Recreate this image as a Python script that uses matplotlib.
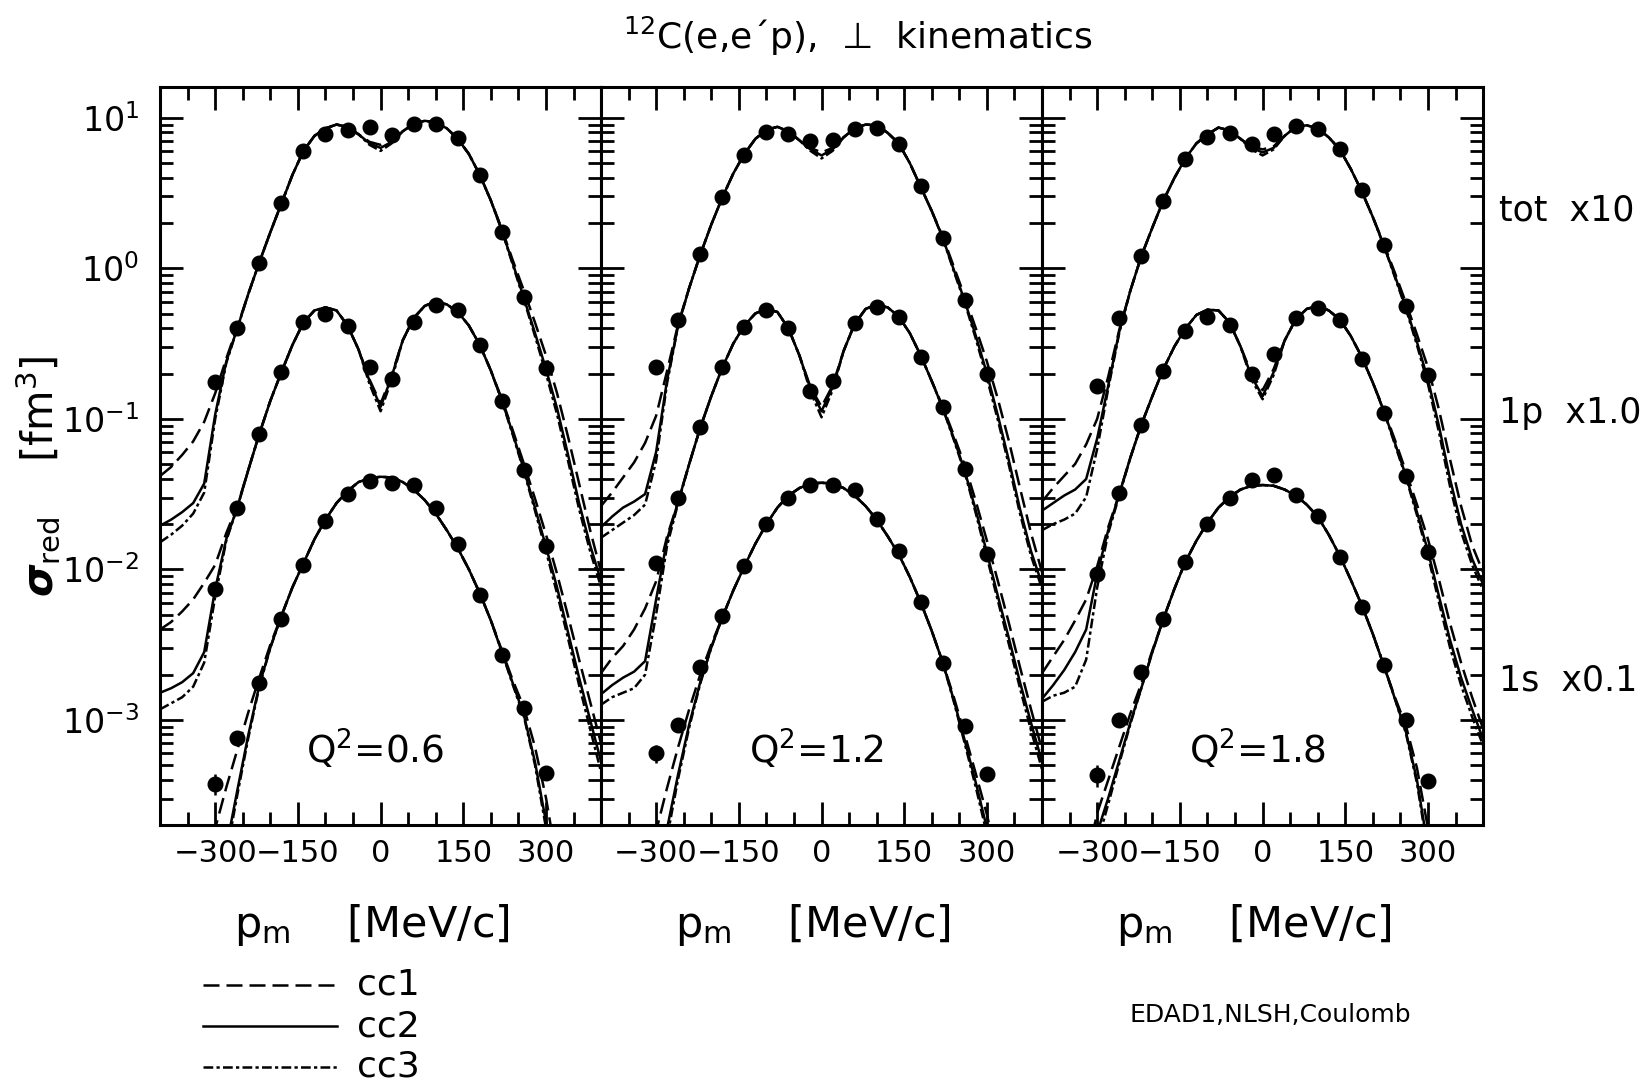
#! /usr/bin/env python3
import matplotlib
matplotlib.use('Agg')
import matplotlib.pyplot as plt
from matplotlib.lines import Line2D
from matplotlib.ticker import MultipleLocator, LogLocator, NullFormatter
import numpy as np

# Model curves are tabulated every 20 MeV/c, log10 of sigma_red (already scaled)
P_CURVE = np.arange(-400, 401, 20)
# Measured points every 40 MeV/c
P_DATA = np.arange(-300, 301, 40)

Q2_LABELS = ['Q$^2$=0.6', 'Q$^2$=1.2', 'Q$^2$=1.8']
ORBIT_LABELS = ['tot  x10', '1p  x1.0', '1s  x0.1']

# ---- Q^2 = 0.6 ----------------------------------------------------------
tot_cc1_q06 = [-1.38, -1.32, -1.24, -1.15, -1.02, -0.83, -0.60, -0.39, -0.17, 0.04,
               0.24, 0.43, 0.62, 0.78, 0.88, 0.93, 0.955, 0.94, 0.89, 0.84,
               0.82, 0.85, 0.91, 0.96, 0.98, 0.97, 0.93, 0.86, 0.76, 0.62,
               0.45, 0.26, 0.05, -0.15, -0.36, -0.58, -0.83, -1.12, -1.43, -1.74, -2.02]
tot_cc2_q06 = [-1.71, -1.67, -1.62, -1.56, -1.43, -0.97, -0.62, -0.40, -0.17, 0.04,
               0.24, 0.43, 0.62, 0.78, 0.88, 0.93, 0.955, 0.94, 0.89, 0.83,
               0.80, 0.84, 0.91, 0.96, 0.98, 0.97, 0.93, 0.86, 0.76, 0.62,
               0.45, 0.25, 0.03, -0.20, -0.43, -0.67, -0.93, -1.24, -1.56, -1.84, -2.08]
tot_cc3_q06 = [-1.82, -1.77, -1.71, -1.63, -1.49, -1.00, -0.63, -0.40, -0.17, 0.04,
               0.24, 0.43, 0.62, 0.78, 0.88, 0.93, 0.955, 0.94, 0.89, 0.82,
               0.78, 0.83, 0.91, 0.96, 0.98, 0.97, 0.93, 0.86, 0.76, 0.62,
               0.45, 0.25, 0.02, -0.21, -0.45, -0.70, -0.97, -1.28, -1.60, -1.88, -2.12]
p1_cc1_q06 = [-2.40, -2.35, -2.28, -2.20, -2.09, -1.97, -1.76, -1.58, -1.34, -1.10,
              -0.88, -0.69, -0.51, -0.36, -0.28, -0.26, -0.28, -0.38, -0.54, -0.74,
              -0.90, -0.71, -0.48, -0.33, -0.25, -0.22, -0.24, -0.29, -0.38, -0.51,
              -0.68, -0.87, -1.08, -1.30, -1.53, -1.77, -2.03, -2.31, -2.60, -2.88, -3.16]
p1_cc2_q06 = [-2.82, -2.79, -2.75, -2.69, -2.55, -2.13, -1.80, -1.59, -1.34, -1.10,
              -0.88, -0.69, -0.51, -0.36, -0.28, -0.26, -0.28, -0.38, -0.54, -0.75,
              -0.92, -0.72, -0.48, -0.33, -0.25, -0.22, -0.24, -0.29, -0.38, -0.51,
              -0.68, -0.88, -1.10, -1.34, -1.59, -1.85, -2.12, -2.42, -2.72, -3.00, -3.28]
p1_cc3_q06 = [-2.93, -2.89, -2.85, -2.78, -2.62, -2.18, -1.81, -1.59, -1.34, -1.10,
              -0.88, -0.69, -0.51, -0.36, -0.28, -0.26, -0.28, -0.38, -0.54, -0.77,
              -0.95, -0.74, -0.48, -0.33, -0.25, -0.22, -0.24, -0.29, -0.38, -0.51,
              -0.68, -0.88, -1.11, -1.35, -1.61, -1.88, -2.16, -2.46, -2.77, -3.06, -3.35]
s1_cc1_q06 = [-5.6, -5.2, -4.8, -4.4, -4.0, -3.72, -3.45, -3.20, -2.95, -2.72,
              -2.50, -2.31, -2.12, -1.96, -1.80, -1.67, -1.56, -1.48, -1.42, -1.395,
              -1.385, -1.39, -1.42, -1.47, -1.54, -1.63, -1.74, -1.86, -2.00, -2.16,
              -2.34, -2.54, -2.74, -2.92, -3.18, -3.52, -3.95, -4.4, -4.8, -5.2, -5.6]
s1_cc2_q06 = [-6.0, -5.6, -5.1, -4.7, -4.3, -4.25, -3.85, -3.47, -3.10, -2.77,
              -2.52, -2.31, -2.12, -1.96, -1.80, -1.67, -1.56, -1.48, -1.42, -1.395,
              -1.385, -1.39, -1.42, -1.47, -1.54, -1.63, -1.74, -1.86, -2.00, -2.16,
              -2.34, -2.55, -2.76, -2.97, -3.28, -3.68, -4.15, -4.7, -5.1, -5.6, -6.0]
s1_cc3_q06 = [-6.0, -5.6, -5.1, -4.7, -4.5, -4.30, -3.90, -3.50, -3.12, -2.78,
              -2.52, -2.31, -2.12, -1.96, -1.80, -1.67, -1.56, -1.48, -1.42, -1.395,
              -1.385, -1.39, -1.42, -1.47, -1.54, -1.63, -1.74, -1.86, -2.00, -2.16,
              -2.34, -2.55, -2.77, -2.98, -3.30, -3.72, -4.2, -4.7, -5.1, -5.6, -6.0]

tot_data_q06 = [0.175, 0.40, 1.09, 2.71, 6.0, 7.77, 8.26, 8.69,
                7.66, 9.15, 9.15, 7.38, 4.14, 1.74, 0.643, 0.218]
p1_data_q06 = [7.38e-3, 0.0255, 0.0792, 0.204, 0.438, 0.498, 0.412, 0.222,
               0.184, 0.438, 0.571, 0.530, 0.310, 0.132, 0.0456, 0.0143]
s1_data_q06 = [3.75e-4, 7.59e-4, 1.75e-3, 4.65e-3, 0.01065, 0.0210, 0.0316, 0.0388,
               0.0372, 0.0362, 0.0255, 0.0147, 6.76e-3, 2.68e-3, 1.20e-3, 4.40e-4]

# ---- Q^2 = 1.2 ----------------------------------------------------------
tot_cc1_q12 = [-1.58, -1.49, -1.39, -1.29, -1.16, -0.98, -0.68, -0.37, -0.13, 0.09,
               0.29, 0.47, 0.63, 0.76, 0.86, 0.92, 0.94, 0.91, 0.85, 0.80,
               0.77, 0.80, 0.87, 0.93, 0.955, 0.95, 0.90, 0.83, 0.70, 0.54,
               0.38, 0.21, 0.01, -0.19, -0.40, -0.62, -0.87, -1.15, -1.46, -1.76, -2.02]
tot_cc2_q12 = [-1.72, -1.65, -1.59, -1.55, -1.50, -1.22, -0.74, -0.38, -0.13, 0.09,
               0.29, 0.47, 0.63, 0.76, 0.86, 0.92, 0.94, 0.91, 0.85, 0.79,
               0.75, 0.79, 0.87, 0.93, 0.955, 0.95, 0.90, 0.83, 0.70, 0.54,
               0.38, 0.20, -0.01, -0.22, -0.45, -0.70, -0.98, -1.28, -1.60, -1.88, -2.10]
tot_cc3_q12 = [-1.79, -1.74, -1.69, -1.64, -1.57, -1.28, -0.76, -0.38, -0.13, 0.09,
               0.29, 0.47, 0.63, 0.76, 0.86, 0.92, 0.94, 0.91, 0.85, 0.78,
               0.73, 0.78, 0.87, 0.93, 0.955, 0.95, 0.90, 0.83, 0.70, 0.54,
               0.38, 0.20, -0.02, -0.23, -0.47, -0.73, -1.01, -1.31, -1.63, -1.91, -2.13]
p1_cc1_q12 = [-2.69, -2.59, -2.51, -2.40, -2.26, -2.08, -1.78, -1.55, -1.30, -1.06,
              -0.85, -0.66, -0.50, -0.38, -0.30, -0.27, -0.29, -0.40, -0.58, -0.79,
              -0.92, -0.78, -0.55, -0.37, -0.27, -0.24, -0.26, -0.32, -0.43, -0.58,
              -0.75, -0.92, -1.11, -1.31, -1.55, -1.81, -2.08, -2.36, -2.65, -2.93, -3.20]
p1_cc2_q12 = [-2.83, -2.77, -2.72, -2.68, -2.61, -2.20, -1.80, -1.55, -1.30, -1.06,
              -0.85, -0.66, -0.50, -0.38, -0.30, -0.27, -0.29, -0.40, -0.58, -0.80,
              -0.95, -0.79, -0.55, -0.37, -0.27, -0.24, -0.26, -0.32, -0.43, -0.58,
              -0.75, -0.93, -1.13, -1.35, -1.61, -1.89, -2.18, -2.46, -2.75, -3.02, -3.28]
p1_cc3_q12 = [-2.90, -2.85, -2.82, -2.79, -2.70, -2.30, -1.84, -1.56, -1.30, -1.06,
              -0.85, -0.66, -0.50, -0.38, -0.30, -0.27, -0.29, -0.40, -0.58, -0.82,
              -0.99, -0.81, -0.55, -0.37, -0.27, -0.24, -0.26, -0.32, -0.43, -0.58,
              -0.75, -0.93, -1.14, -1.36, -1.63, -1.92, -2.21, -2.50, -2.79, -3.07, -3.33]
s1_cc1_q12 = [-5.6, -5.2, -4.8, -4.4, -4.1, -3.74, -3.45, -3.18, -2.93, -2.70,
              -2.50, -2.32, -2.14, -1.98, -1.83, -1.70, -1.59, -1.51, -1.46, -1.43,
              -1.425, -1.43, -1.46, -1.51, -1.58, -1.67, -1.78, -1.90, -2.05, -2.22,
              -2.41, -2.62, -2.85, -3.10, -3.36, -3.63, -3.95, -4.3, -4.7, -5.1, -5.5]
s1_cc2_q12 = [-6.0, -5.6, -5.1, -4.7, -4.4, -4.05, -3.72, -3.36, -3.03, -2.75,
              -2.52, -2.32, -2.14, -1.98, -1.83, -1.70, -1.59, -1.51, -1.46, -1.43,
              -1.425, -1.43, -1.46, -1.51, -1.58, -1.67, -1.78, -1.90, -2.05, -2.22,
              -2.41, -2.62, -2.87, -3.14, -3.42, -3.72, -4.1, -4.5, -4.9, -5.3, -5.7]
s1_cc3_q12 = [-6.0, -5.6, -5.1, -4.7, -4.5, -4.20, -3.78, -3.39, -3.05, -2.76,
              -2.52, -2.32, -2.14, -1.98, -1.83, -1.70, -1.59, -1.51, -1.46, -1.43,
              -1.425, -1.43, -1.46, -1.51, -1.58, -1.67, -1.78, -1.90, -2.05, -2.22,
              -2.41, -2.62, -2.88, -3.16, -3.45, -3.76, -4.15, -4.5, -4.9, -5.3, -5.7]

tot_data_q12 = [0.222, 0.456, 1.25, 2.97, 5.69, 8.05, 7.76, 6.98,
                7.08, 8.47, 8.6, 6.73, 3.50, 1.59, 0.62, 0.199]
p1_data_q12 = [0.011, 0.0297, 0.0877, 0.22, 0.405, 0.53, 0.40, 0.154,
               0.177, 0.434, 0.551, 0.477, 0.259, 0.120, 0.0463, 0.0127]
s1_data_q12 = [6.0e-4, 9.2e-4, 2.24e-3, 4.9e-3, 0.0105, 0.020, 0.030, 0.0365,
               0.0365, 0.0335, 0.0215, 0.0133, 6.07e-3, 2.39e-3, 9.1e-4, 4.38e-4]

# ---- Q^2 = 1.8 ----------------------------------------------------------
tot_cc1_q18 = [-1.55, -1.46, -1.38, -1.30, -1.17, -1.00, -0.72, -0.41, -0.15, 0.08,
               0.27, 0.45, 0.60, 0.73, 0.83, 0.89, 0.935, 0.915, 0.86, 0.81,
               0.79, 0.81, 0.88, 0.94, 0.95, 0.93, 0.87, 0.79, 0.66, 0.51,
               0.34, 0.16, -0.03, -0.23, -0.44, -0.66, -0.94, -1.27, -1.58, -1.84, -2.02]
tot_cc2_q18 = [-1.61, -1.56, -1.51, -1.47, -1.40, -1.13, -0.78, -0.42, -0.15, 0.08,
               0.27, 0.45, 0.60, 0.73, 0.83, 0.89, 0.935, 0.915, 0.86, 0.80,
               0.77, 0.80, 0.88, 0.94, 0.95, 0.93, 0.87, 0.79, 0.66, 0.51,
               0.34, 0.15, -0.05, -0.26, -0.49, -0.74, -1.05, -1.40, -1.70, -1.93, -2.10]
tot_cc3_q18 = [-1.74, -1.70, -1.67, -1.63, -1.52, -1.20, -0.80, -0.43, -0.15, 0.08,
               0.27, 0.45, 0.60, 0.73, 0.83, 0.89, 0.935, 0.915, 0.86, 0.79,
               0.75, 0.79, 0.88, 0.94, 0.95, 0.93, 0.87, 0.79, 0.66, 0.51,
               0.34, 0.15, -0.06, -0.27, -0.51, -0.77, -1.09, -1.45, -1.75, -1.97, -2.14]
p1_cc1_q18 = [-2.69, -2.58, -2.47, -2.34, -2.20, -1.98, -1.72, -1.50, -1.26, -1.04,
              -0.85, -0.67, -0.52, -0.40, -0.31, -0.275, -0.28, -0.36, -0.52, -0.70,
              -0.81, -0.67, -0.48, -0.34, -0.27, -0.25, -0.28, -0.34, -0.45, -0.59,
              -0.76, -0.94, -1.14, -1.35, -1.57, -1.80, -2.07, -2.36, -2.62, -2.85, -3.06]
p1_cc2_q18 = [-2.86, -2.77, -2.67, -2.55, -2.40, -2.03, -1.74, -1.50, -1.26, -1.04,
              -0.85, -0.67, -0.52, -0.40, -0.31, -0.275, -0.28, -0.36, -0.52, -0.72,
              -0.85, -0.69, -0.48, -0.34, -0.27, -0.25, -0.28, -0.34, -0.45, -0.59,
              -0.76, -0.95, -1.16, -1.38, -1.62, -1.88, -2.18, -2.47, -2.72, -2.93, -3.13]
p1_cc3_q18 = [-2.88, -2.84, -2.82, -2.78, -2.60, -2.12, -1.76, -1.51, -1.26, -1.04,
              -0.85, -0.67, -0.52, -0.40, -0.31, -0.275, -0.28, -0.36, -0.52, -0.74,
              -0.87, -0.71, -0.48, -0.34, -0.27, -0.25, -0.28, -0.34, -0.45, -0.59,
              -0.76, -0.95, -1.17, -1.39, -1.64, -1.91, -2.22, -2.52, -2.77, -2.98, -3.17]
s1_cc1_q18 = [-5.6, -5.2, -4.8, -4.4, -3.95, -3.62, -3.40, -3.18, -2.96, -2.76,
              -2.54, -2.33, -2.13, -1.95, -1.81, -1.69, -1.59, -1.52, -1.47, -1.445,
              -1.44, -1.445, -1.47, -1.51, -1.57, -1.65, -1.77, -1.91, -2.07, -2.24,
              -2.43, -2.64, -2.85, -3.04, -3.32, -3.72, -4.2, -4.6, -5.0, -5.4, -5.8]
s1_cc2_q18 = [-6.0, -5.6, -5.1, -4.7, -4.1, -3.75, -3.52, -3.27, -3.02, -2.79,
              -2.55, -2.33, -2.13, -1.95, -1.81, -1.69, -1.59, -1.52, -1.47, -1.445,
              -1.44, -1.445, -1.47, -1.51, -1.57, -1.65, -1.77, -1.91, -2.07, -2.24,
              -2.43, -2.64, -2.86, -3.08, -3.40, -3.85, -4.3, -4.7, -5.1, -5.5, -5.9]
s1_cc3_q18 = [-6.0, -5.6, -5.1, -4.7, -4.2, -3.82, -3.56, -3.29, -3.03, -2.79,
              -2.55, -2.33, -2.13, -1.95, -1.81, -1.69, -1.59, -1.52, -1.47, -1.445,
              -1.44, -1.445, -1.47, -1.51, -1.57, -1.65, -1.77, -1.91, -2.07, -2.24,
              -2.43, -2.64, -2.86, -3.09, -3.42, -3.88, -4.3, -4.7, -5.1, -5.5, -5.9]

tot_data_q18 = [0.164, 0.468, 1.2, 2.8, 5.36, 7.45, 7.92, 6.67,
                7.76, 8.78, 8.47, 6.24, 3.30, 1.42, 0.565, 0.195]
p1_data_q18 = [9.3e-3, 0.0319, 0.091, 0.209, 0.382, 0.477, 0.423, 0.20,
               0.27, 0.468, 0.546, 0.454, 0.25, 0.109, 0.0418, 0.0131]
s1_data_q18 = [4.3e-4, 1.0e-3, 2.07e-3, 4.66e-3, 0.0112, 0.0201, 0.0297, 0.0394,
               0.0425, 0.0313, 0.0226, 0.012, 5.65e-3, 2.3e-3, 1.0e-3, 3.9e-4]

# error on the first 1s point (the only bar larger than the dot)
s1_err_first = [0.6e-4, 0.85e-4, 0.7e-4]

LW = 1.8
STYLES = {
    'cc1': dict(color='black', lw=LW, dashes=[6.4, 2.8]),
    'cc2': dict(color='black', lw=LW, linestyle='-'),
    'cc3': dict(color='black', lw=LW, dashes=[3.9, 1.3, 1.3, 1.3]),
}


def style_axes(ax, show_ylabels):
    ax.set_yscale('log')
    ax.set_xlim(-400, 400)
    ax.set_ylim(2e-4, 16)
    ax.xaxis.set_major_locator(MultipleLocator(150))
    ax.xaxis.set_minor_locator(MultipleLocator(50))
    ax.yaxis.set_major_locator(LogLocator(base=10))
    ax.yaxis.set_minor_locator(LogLocator(base=10, subs=np.arange(2, 10)))
    ax.yaxis.set_minor_formatter(NullFormatter())
    ax.tick_params(which='both', direction='in', top=True, right=True, width=2.0)
    ax.tick_params(which='major', length=16.5)
    ax.tick_params(which='minor', length=9.5)
    ax.tick_params(axis='x', pad=10, labelsize=22)
    ax.tick_params(axis='y', pad=15, labelsize=24, labelleft=show_ylabels)
    for s in ax.spines.values():
        s.set_linewidth(2.2)


def draw_panel(ax, curves, data, s1_err, q2_label):
    for group in curves:
        for name, logs in group.items():
            ax.plot(P_CURVE, 10.0 ** np.array(logs), **STYLES[name])
    for values in data:
        ax.plot(P_DATA, values, 'o', color='black', ms=10.5, zorder=5)
    # error bar on the lowest 1s point at -300 MeV/c
    ax.errorbar(P_DATA[0], data[2][0], yerr=s1_err, fmt='none',
                ecolor='black', elinewidth=1.8, capsize=0, zorder=5)
    ax.text(-10, 6.3e-4, q2_label, ha='center', va='center', fontsize=27)
    ax.text(0.48, -0.135, r'p$_{\rm m}$    [MeV/c]', transform=ax.transAxes,
            ha='center', va='center', fontsize=31)


def main():
    plt.rcParams['font.family'] = ['DejaVu Sans']
    plt.rcParams['mathtext.default'] = 'regular'

    fig = plt.figure(figsize=(16.47, 10.83), dpi=100)

    panels = [
        ([{'cc1': tot_cc1_q06, 'cc2': tot_cc2_q06, 'cc3': tot_cc3_q06},
          {'cc1': p1_cc1_q06, 'cc2': p1_cc2_q06, 'cc3': p1_cc3_q06},
          {'cc1': s1_cc1_q06, 'cc2': s1_cc2_q06, 'cc3': s1_cc3_q06}],
         [tot_data_q06, p1_data_q06, s1_data_q06]),
        ([{'cc1': tot_cc1_q12, 'cc2': tot_cc2_q12, 'cc3': tot_cc3_q12},
          {'cc1': p1_cc1_q12, 'cc2': p1_cc2_q12, 'cc3': p1_cc3_q12},
          {'cc1': s1_cc1_q12, 'cc2': s1_cc2_q12, 'cc3': s1_cc3_q12}],
         [tot_data_q12, p1_data_q12, s1_data_q12]),
        ([{'cc1': tot_cc1_q18, 'cc2': tot_cc2_q18, 'cc3': tot_cc3_q18},
          {'cc1': p1_cc1_q18, 'cc2': p1_cc2_q18, 'cc3': p1_cc3_q18},
          {'cc1': s1_cc1_q18, 'cc2': s1_cc2_q18, 'cc3': s1_cc3_q18}],
         [tot_data_q18, p1_data_q18, s1_data_q18]),
    ]

    lefts = [0.0972, 0.3649, 0.6327]
    for i, (curves, data) in enumerate(panels):
        ax = fig.add_axes([lefts[i], 0.2382, 0.2678, 0.6814])
        style_axes(ax, show_ylabels=(i == 0))
        draw_panel(ax, curves, data, s1_err_first[i], Q2_LABELS[i])

    # scale factors of the three groups, right of the last panel
    for label, y in zip(ORBIT_LABELS, [0.806, 0.619, 0.372]):
        fig.text(0.910, y, label, ha='left', va='center', fontsize=25)

    fig.text(0.023, 0.560, r'$\boldsymbol{\sigma}_{\rm red}$    [fm$^3$]',
             rotation=90, ha='center', va='center', fontsize=30)
    fig.text(0.521, 0.966, '$^{12}$C(e,e\u00b4p),  \u22a5  kinematics',
             ha='center', va='center', fontsize=26)

    # legend for the three coupled-channel models
    for j, name in enumerate(['cc1', 'cc2', 'cc3']):
        y = [0.0905, 0.0526, 0.0148][j]
        fig.add_artist(Line2D([0.1233, 0.2046], [y, y], transform=fig.transFigure,
                              **STYLES[name]))
        fig.text(0.2168, y, name, ha='left', va='center', fontsize=26)

    fig.text(0.686, 0.0628, 'EDAD1,NLSH,Coulomb', ha='left', va='center',
             fontsize=18)

    fig.savefig('out.png', dpi=100)


if __name__ == '__main__':
    main()
